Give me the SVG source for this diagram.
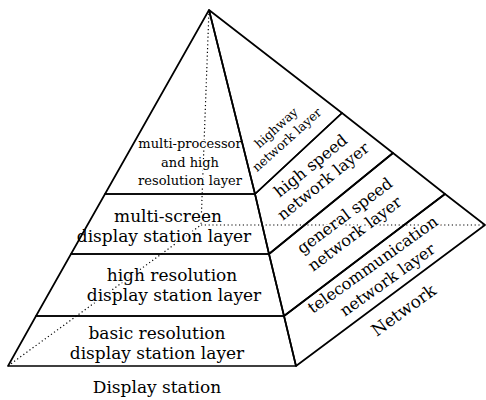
<svg xmlns="http://www.w3.org/2000/svg" width="486" height="400" viewBox="0 0 486 400">
<style>
.face{fill:none;stroke:#000;stroke-width:1.7;stroke-linejoin:round}
.hid{fill:none;stroke:#000;stroke-width:1.2;stroke-dasharray:1.2 2.6}
text{font-family:"DejaVu Serif","Liberation Serif",serif;fill:#000;text-anchor:middle;stroke:#fff;stroke-width:3;stroke-linejoin:round;paint-order:stroke}
.s13{font-size:13px}
.s12{font-size:12.5px}
.s16{font-size:16px}
.s17{font-size:17px}
</style>
<rect width="486" height="400" fill="#fff"/>
<g id="connectors">
<line class="hid" x1="209" y1="10" x2="201" y2="225"/>
<line class="hid" x1="8" y1="366" x2="201" y2="225"/>
<line class="hid" x1="201" y1="225" x2="485" y2="225"/>
</g>
<g id="multi-processor-layer">
<text class="s13"><tspan x="190" y="148">multi-processor</tspan><tspan x="190" y="167">and high</tspan><tspan x="190" y="185">resolution layer</tspan></text>
<polygon class="face" points="209,10 105,194 255,194"/>
</g>
<g id="multi-screen-layer">
<text class="s17"><tspan x="168" y="222">multi-screen</tspan><tspan x="164" y="242">display station layer</tspan></text>
<polygon class="face" points="105,194 255,194 269,254 71,254"/>
</g>
<g id="high-resolution-layer">
<text class="s17"><tspan x="172" y="281">high resolution</tspan><tspan x="174" y="301">display station layer</tspan></text>
<polygon class="face" points="71,254 269,254 284,316 36,316"/>
</g>
<g id="basic-resolution-layer">
<text class="s17"><tspan x="157" y="339">basic resolution</tspan><tspan x="157" y="359">display station layer</tspan></text>
<polygon class="face" points="36,316 284,316 296,366 8,366"/>
</g>
<g id="highway-network-layer">
<text class="s12" transform="translate(279,131) rotate(-42)"><tspan x="0" y="0">highway</tspan><tspan x="0" y="16">network layer</tspan></text>
<polygon class="face" points="209,10 342,113 255,194"/>
</g>
<g id="high-speed-network-layer">
<text class="s16" transform="translate(314,170) rotate(-39)"><tspan x="0" y="0">high speed</tspan><tspan x="0" y="20">network layer</tspan></text>
<polygon class="face" points="255,194 342,113 393,153 269,254"/>
</g>
<g id="general-speed-network-layer">
<text class="s16" transform="translate(348,220) rotate(-37)"><tspan x="0" y="0">general speed</tspan><tspan x="-3" y="20.5">network layer</tspan></text>
<polygon class="face" points="269,254 393,153 445,194 284,316"/>
</g>
<g id="telecommunication-network-layer">
<text class="s16" transform="translate(376,269) rotate(-35.5)"><tspan x="0" y="0">telecommunication</tspan><tspan x="3" y="21">network layer</tspan></text>
<polygon class="face" points="284,316 445,194 485,225 296,366"/>
</g>
<g id="network-label">
<text class="s17" transform="translate(407,315) rotate(-36)" x="0" y="0">Network</text>
</g>
<g id="display-station-label">
<text class="s17" x="157" y="393">Display station</text>
</g>
</svg>
